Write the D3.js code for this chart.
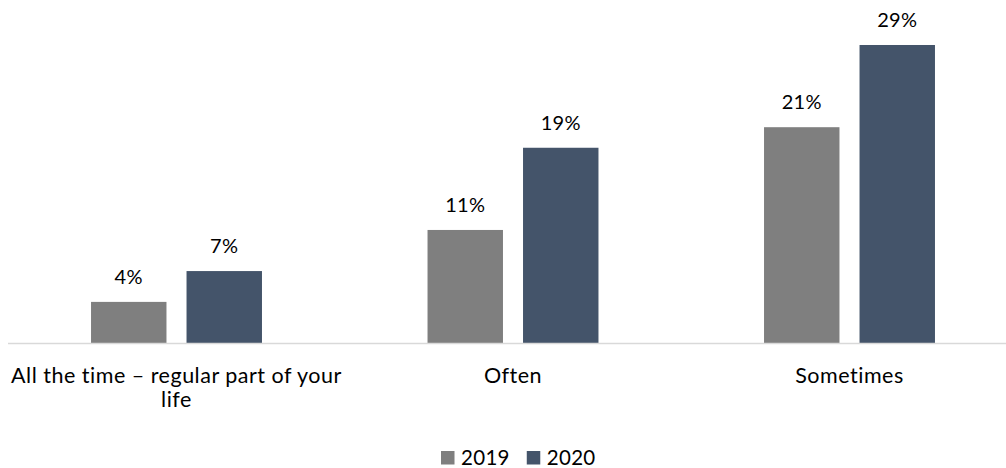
<!DOCTYPE html>
<html>
<head>
<meta charset="utf-8">
<script src="https://cdn.jsdelivr.net/npm/d3@7"></script>
<style>
  html, body { margin: 0; padding: 0; background: #ffffff; }
  svg { display: block; }
  text { font-family: Lato, "Open Sans", sans-serif; fill: #000000; }
</style>
</head>
<body>
<svg id="chart" width="1006" height="468"></svg>
<script>
// Frequency categories and yearly shares (percent)
const categories = ["All the time \u2013 regular part of your life", "Often", "Sometimes"];
const seriesNames = ["2019", "2020"];
const values2019 = [4, 11, 21];
const values2020 = [7, 19, 29];
const seriesColors = ["#7f7f7f", "#44546a"];

const width = 1006, height = 468;
const svg = d3.select("#chart");

const baseline = 343;
const x0 = d3.scaleBand()
  .domain(categories)
  .range([8.25, 1017.75])
  .paddingInner(0.492)
  .paddingOuter(0.246);

const x1 = d3.scaleBand()
  .domain(seriesNames)
  .range([0, x0.bandwidth()])
  .paddingInner(0.21);

const y = d3.scaleLinear()
  .domain([0, 30])
  .range([baseline, baseline - 30 * 10.276]);

const color = d3.scaleOrdinal().domain(seriesNames).range(seriesColors);

const rows = categories.map((c, i) => ({
  category: c,
  values: [
    { series: "2019", value: values2019[i] },
    { series: "2020", value: values2020[i] }
  ]
}));

// Bars and value labels
const groups = svg.append("g").selectAll("g")
  .data(rows)
  .join("g")
  .attr("transform", d => `translate(${x0(d.category)},0)`);

groups.selectAll("rect")
  .data(d => d.values)
  .join("rect")
  .attr("x", d => x1(d.series))
  .attr("y", d => y(d.value))
  .attr("width", x1.bandwidth())
  .attr("height", d => y(0) - y(d.value))
  .attr("fill", d => color(d.series));

groups.selectAll("text.value")
  .data(d => d.values)
  .join("text")
  .attr("class", "value")
  .attr("x", d => x1(d.series) + x1.bandwidth() / 2)
  .attr("y", d => y(d.value) - 18)
  .attr("text-anchor", "middle")
  .style("font-size", "20px")
  .style("letter-spacing", "0.3px")
  .text(d => d.value + "%");

// Category axis
const xAxis = svg.append("g")
  .attr("transform", `translate(0,${baseline})`)
  .call(d3.axisBottom(x0).tickSize(0).tickPadding(0));
xAxis.select(".domain").remove();
svg.append("line")
  .attr("x1", 8).attr("x2", 1006)
  .attr("y1", baseline + 0.5).attr("y2", baseline + 0.5)
  .attr("stroke", "#d9d9d9")
  .attr("stroke-width", 1.5);

xAxis.selectAll(".tick text")
  .attr("fill", "#000")
  .style("font-family", "Lato, 'Open Sans', sans-serif")
  .style("font-size", "21.5px")
  .style("letter-spacing", "0.5px")
  .attr("y", 0)
  .attr("dy", null)
  .each(function(d) {
    const t = d3.select(this);
    const words = d.split(" ");
    const maxW = x0.step() - 2;
    t.text(null);
    let lines = [[]];
    let tspan = t.append("tspan").attr("x", 0);
    for (const w of words) {
      const cur = lines[lines.length - 1];
      cur.push(w);
      tspan.text(cur.join(" "));
      if (tspan.node().getComputedTextLength() > maxW && cur.length > 1) {
        cur.pop();
        tspan.text(cur.join(" "));
        lines.push([w]);
        tspan = t.append("tspan").attr("x", 0).text(w);
      }
    }
    t.selectAll("tspan").attr("y", (_, i) => 39.5 + i * 24);
  });

// Legend
const legend = svg.append("g").attr("transform", "translate(441,451)");
let lx = 0;
seriesNames.forEach(name => {
  const g = legend.append("g").attr("transform", `translate(${lx},0)`);
  g.append("rect").attr("width", 13.5).attr("height", 13.5).attr("fill", color(name));
  const txt = g.append("text")
    .attr("x", 20).attr("y", 14)
    .style("font-size", "20.5px")
    .style("letter-spacing", "0.3px")
    .text(name);
  lx += 20 + txt.node().getComputedTextLength() + 17;
});
</script>
</body>
</html>
